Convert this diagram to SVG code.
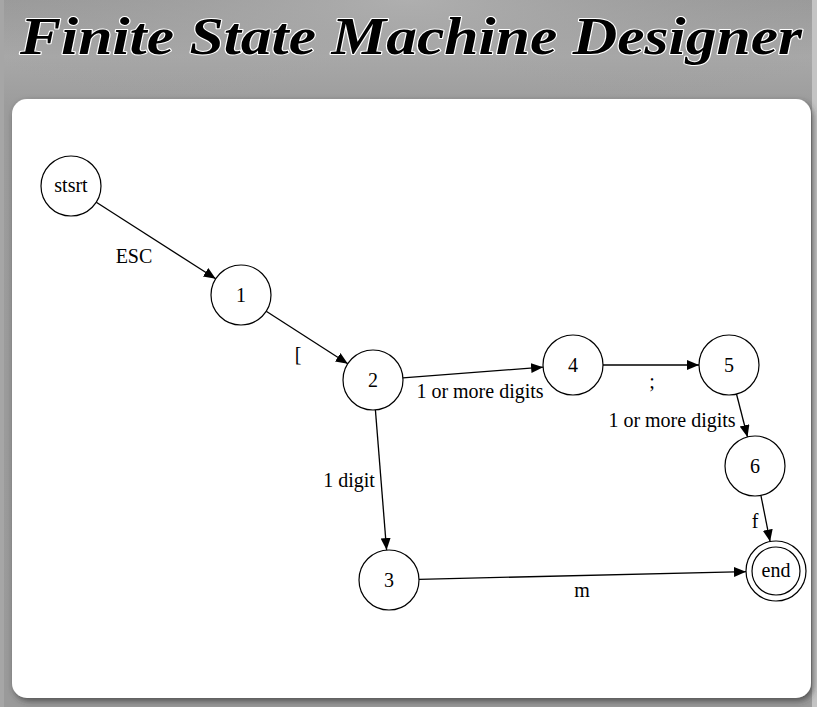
<svg xmlns="http://www.w3.org/2000/svg" width="817" height="707" viewBox="0 0 817 707">
  <defs>
    <linearGradient id="bg" x1="0" y1="0" x2="0" y2="1">
      <stop offset="0" stop-color="#9a9a9a"/>
      <stop offset="0.08" stop-color="#a8a8a8"/>
      <stop offset="0.15" stop-color="#9c9c9c"/>
      <stop offset="1" stop-color="#9a9a9a"/>
    </linearGradient>
    <radialGradient id="glow" cx="0.5" cy="0" r="0.6">
      <stop offset="0" stop-color="#b4b4b4" stop-opacity="0.8"/>
      <stop offset="1" stop-color="#9a9a9a" stop-opacity="0"/>
    </radialGradient>
    <filter id="shadow" x="-5%" y="-5%" width="110%" height="110%">
      <feDropShadow dx="2" dy="3" stdDeviation="3" flood-color="#333" flood-opacity="0.7"/>
    </filter>
    <marker id="arrow" markerUnits="userSpaceOnUse" markerWidth="14" markerHeight="12" refX="12" refY="5" orient="auto">
      <path d="M0,0 L12,5 L0,10 z" fill="#000"/>
    </marker>
    <style>
      .title { font-family: "Liberation Serif", "Times New Roman", serif; font-weight: bold; font-style: italic; font-size: 52px; fill: #000; stroke: #fff; stroke-width: 2px; paint-order: stroke; stroke-linejoin: round; }
      .state { fill: #fff; stroke: #000; stroke-width: 1.2; }
      .lbl { font-family: "Liberation Serif", "Times New Roman", Tinos, Times, serif; font-size: 20px; fill: #000; text-anchor: middle; }
      .edge { fill: none; stroke: #000; stroke-width: 1.3; marker-end: url(#arrow); }
    </style>
  </defs>

  <rect x="0" y="0" width="817" height="707" fill="url(#bg)"/>
  <rect x="0" y="0" width="817" height="200" fill="url(#glow)"/>
  <rect x="0" y="0" width="4" height="707" fill="#a6a6a6"/>
  <rect x="812" y="0" width="5" height="707" fill="#c4c4c4"/>

  <text class="title" x="20" y="54" textLength="782" lengthAdjust="spacingAndGlyphs">Finite State Machine Designer</text>

  <rect x="12" y="99" width="799" height="599" rx="15" ry="15" fill="#fff" filter="url(#shadow)"/>

  <g id="connectors">
    <line class="edge" x1="96.3" y1="202.2" x2="215.7" y2="278.8"/>
    <line class="edge" x1="266.2" y1="311.2" x2="347.8" y2="363.8"/>
    <line class="edge" x1="402.9" y1="377.8" x2="543.1" y2="367.2"/>
    <line class="edge" x1="603" y1="365" x2="699" y2="365"/>
    <line class="edge" x1="736.5" y1="394" x2="747.5" y2="437"/>
    <line class="edge" x1="760.9" y1="495.4" x2="770.1" y2="541.6"/>
    <line class="edge" x1="375.4" y1="409.9" x2="386.6" y2="550.1"/>
    <line class="edge" x1="419" y1="579.3" x2="746" y2="571.7"/>
    <text class="lbl" x="134" y="263">ESC</text>
    <text class="lbl" x="298" y="361">[</text>
    <text class="lbl" x="480" y="398">1 or more digits</text>
    <text class="lbl" x="652" y="388">;</text>
    <text class="lbl" x="672" y="427">1 or more digits</text>
    <text class="lbl" x="349" y="487">1 digit</text>
    <text class="lbl" x="755" y="528">f</text>
    <text class="lbl" x="582" y="597">m</text>
  </g>

  <g id="state-stsrt"><circle class="state" cx="71" cy="186" r="30"/><text class="lbl" x="71" y="192">stsrt</text></g>
  <g id="state-1"><circle class="state" cx="241" cy="295" r="30"/><text class="lbl" x="241" y="302">1</text></g>
  <g id="state-2"><circle class="state" cx="373" cy="380" r="30"/><text class="lbl" x="373" y="387">2</text></g>
  <g id="state-4"><circle class="state" cx="573" cy="365" r="30"/><text class="lbl" x="573" y="372">4</text></g>
  <g id="state-5"><circle class="state" cx="729" cy="365" r="30"/><text class="lbl" x="729" y="372">5</text></g>
  <g id="state-6"><circle class="state" cx="755" cy="466" r="30"/><text class="lbl" x="755" y="473">6</text></g>
  <g id="state-3"><circle class="state" cx="389" cy="580" r="30"/><text class="lbl" x="389" y="587">3</text></g>
  <g id="state-end"><circle class="state" cx="776" cy="571" r="30"/><circle class="state" cx="776" cy="571" r="24"/><text class="lbl" x="776" y="577">end</text></g>
</svg>
